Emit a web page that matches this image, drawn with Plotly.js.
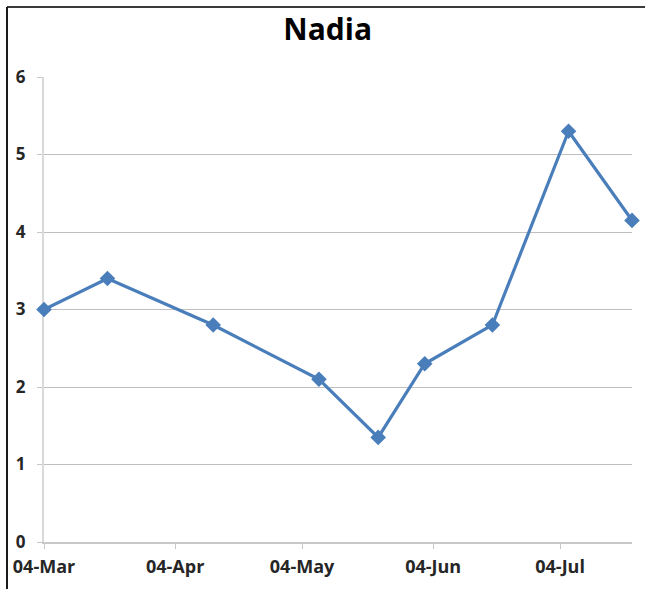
<!DOCTYPE html>
<html>
<head>
<meta charset="utf-8">
<script src="https://cdn.plot.ly/plotly-3.0.1.min.js"></script>
<style>
  html, body { margin: 0; padding: 0; background: #ffffff; }
  #chart { width: 645px; height: 589px; }
</style>
</head>
<body>
<div id="chart"></div>
<script>
// Nadia's readings over the season
const dates = ['2013-03-04', '2013-03-19', '2013-04-13', '2013-05-08', '2013-05-22',
               '2013-06-02', '2013-06-18', '2013-07-06', '2013-07-21'];
const values = [3.0, 3.4, 2.8, 2.1, 1.35, 2.3, 2.8, 5.3, 4.15];
const yTicks = [0, 1, 2, 3, 4, 5, 6];
const chartTitle = 'Nadia';

const W = 645, H = 589;
const M = { l: 44, r: 13, t: 77, b: 47 };
const plotW = W - M.l - M.r, plotH = H - M.t - M.b;
// pixel -> paper helpers for the outer frame lines
const px = x => (x - M.l) / plotW;
const py = y => (H - M.b - y) / plotH;

const labelFont = { family: 'Open Sans, sans-serif', size: 18, color: '#262626', weight: 700 };

const trace = {
  x: dates,
  y: values,
  type: 'scatter',
  mode: 'lines+markers',
  line: { color: '#4a7ebb', width: 3.2 },
  marker: { symbol: 'diamond', size: 12, color: '#4a7ebb' },
  cliponaxis: false,
  hoverinfo: 'x+y'
};

const layout = {
  width: W,
  height: H,
  margin: M,
  paper_bgcolor: '#ffffff',
  plot_bgcolor: '#ffffff',
  showlegend: false,
  title: {
    text: '<b>' + chartTitle + '</b>',
    font: { family: 'Open Sans, sans-serif', size: 30, color: '#000000' },
    x: 0.508, xanchor: 'center',
    y: 1 - 29 / H, yanchor: 'middle'
  },
  xaxis: {
    type: 'date',
    range: [dates[0], dates[dates.length - 1]],
    tick0: dates[0],
    dtick: 'M1',
    tickformat: '%d-%b',
    showgrid: false,
    zeroline: false,
    showline: true,
    linecolor: '#c8c8c8',
    linewidth: 2,
    layer: 'below traces',
    ticks: 'outside',
    ticklen: 5,
    tickcolor: '#c8c8c8',
    ticklabelstandoff: 2,
    tickfont: labelFont
  },
  yaxis: {
    range: [0, 6],
    tickvals: yTicks,
    ticktext: yTicks.map(String),
    showgrid: true,
    gridcolor: '#bfbfbf',
    gridwidth: 1,
    zeroline: false,
    showline: true,
    linecolor: '#d9d9d9',
    linewidth: 2,
    layer: 'below traces',
    ticks: 'outside',
    ticklen: 5,
    tickcolor: '#c8c8c8',
    ticklabelstandoff: 8,
    tickfont: Object.assign({}, labelFont, { size: 17 })
  },
  shapes: [
    { type: 'line', xref: 'paper', yref: 'paper', x0: px(7), x1: px(645), y0: py(7), y1: py(7),
      line: { color: '#3a3a3a', width: 2 } },
    { type: 'line', xref: 'paper', yref: 'paper', x0: px(7), x1: px(7), y0: py(7), y1: py(589),
      line: { color: '#1a1a1a', width: 2 } }
  ]
};

Plotly.newPlot('chart', [trace], layout, { displayModeBar: false, staticPlot: true });
</script>
</body>
</html>
